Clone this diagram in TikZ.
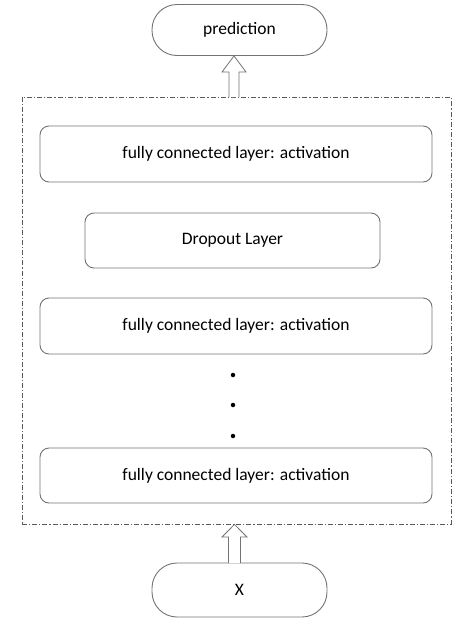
\documentclass[tikz,border=0pt]{standalone}
\usepackage{fontspec}
\setmainfont{Carlito}
\usetikzlibrary{calc}
\begin{document}
\begin{tikzpicture}[x=1pt,y=-1pt,
  layer/.style={draw=black!55,line width=0.9pt,rounded corners=9pt,minimum width=392pt,minimum height=56pt,inner sep=0pt,font=\fontsize{17.5}{20}\selectfont,text=black},
  term/.style={draw=black!55,line width=0.9pt,rounded corners=25pt,minimum width=175pt,minimum height=51pt,inner sep=0pt,font=\fontsize{17.5}{20}\selectfont,text=black},
  outerbox/.style={draw=black!65,line width=0.8pt,dash pattern=on 5pt off 2pt on 1.2pt off 2pt},
  blockarrow/.style={draw=black!55,fill=white,line width=0.8pt,line join=miter},
  dotmark/.style={fill=black,circle,inner sep=0pt,minimum size=4.5pt}]
\useasboundingbox (0,0) rectangle (473,627);
\node[term] (pred) at (239.5,30) {prediction};
\node[outerbox,minimum width=429pt,minimum height=427pt,inner sep=0pt] (outer) at (236.5,310.5) {};
\node[layer] (fc1) at (236,154) {fully connected layer: activation};
\node[layer,minimum width=295pt,minimum height=55pt] (drop) at (232.5,240.5) {Dropout Layer};
\node[layer] (fc2) at (236,326) {fully connected layer: activation};
\node[dotmark] (d1) at (233,375) {};
\node[dotmark] (d2) at (233,405) {};
\node[dotmark] (d3) at (233,436) {};
\node[layer,minimum height=55pt] (fc3) at (236,475.5) {fully connected layer: activation};
\node[term,minimum height=54pt] (x) at (239.5,590) {X};
% top block arrow: from outer box top to prediction bottom
\draw[blockarrow] (234-5,97) -- (234-5,72) -- (234-12,72) -- (pred.south -| 234,0) -- (234+12,72) -- (234+5,72) -- (234+5,97);
% bottom block arrow: from X top to outer box bottom
\draw[blockarrow] (234.5-6,563) -- (234.5-6,537) -- (234.5-12.5,537) -- (outer.south -| 234.5,0) -- (234.5+12.5,537) -- (234.5+6,537) -- (234.5+6,563);
\end{tikzpicture}
\end{document}
